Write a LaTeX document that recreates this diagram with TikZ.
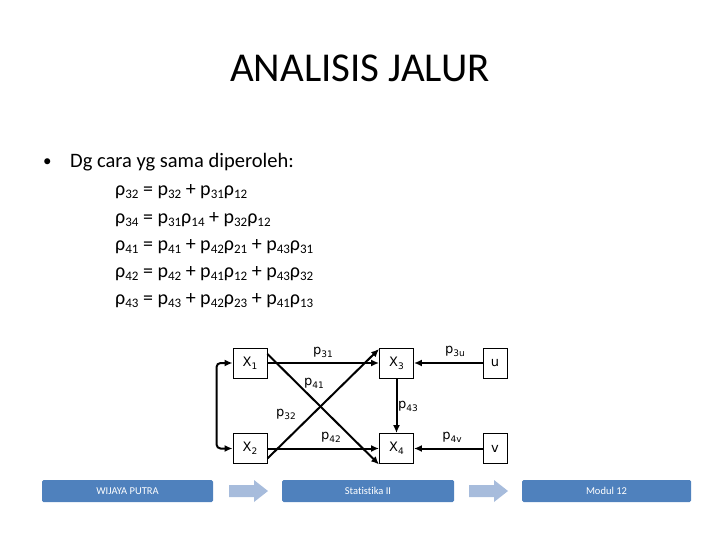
\documentclass[tikz,border=0pt]{standalone}
\usepackage{fontspec}
\setmainfont{Carlito}[Ligatures=NoCommon]
\newfontfamily\diagfont{DejaVu Sans}
\usetikzlibrary{arrows.meta}
\newcommand{\sbt}[1]{\raisebox{-3pt}{\fontsize{13}{13}\selectfont #1}}
\newcommand{\dsb}[1]{\raisebox{-3pt}{\fontsize{9}{9}\selectfont #1}}
\definecolor{barblue}{RGB}{79,129,189}
\definecolor{arrblue}{RGB}{167,188,220}
\tikzset{
  vbox/.style={draw=black, line width=0.9pt, minimum width=34pt, minimum height=30pt, inner sep=0pt, font=\diagfont\fontsize{13}{13}\selectfont},
  ebox/.style={vbox, minimum width=24pt},
  path/.style={line width=2pt, -{Latex[length=8pt,width=7pt]}},
  lbl/.style={inner sep=0pt, font=\diagfont\fontsize{13}{13}\selectfont},
  introline/.style={anchor=base west, inner sep=0pt, font=\fontsize{20.5}{20.5}\selectfont},
  eqline/.style={anchor=base west, inner sep=0pt, font=\fontsize{20}{20}\selectfont},
  bar/.style={fill=barblue, draw=none, rounded corners=1.5pt},
  bartext/.style={text=white, font=\fontsize{10.5}{10.5}\selectfont, inner sep=0pt},
  chev/.style={fill=arrblue, draw=none}
}
\begin{document}
\begin{tikzpicture}[x=1pt,y=-1pt]
\useasboundingbox (0,0) rectangle (720,540);
% title
\node[anchor=base, inner sep=0pt, font=\fontsize{41}{41}\selectfont] (title) at (360,82) {ANALISIS JALUR};
% bullet text
\node[anchor=base west, inner sep=0pt, font=\fontsize{17}{17}\selectfont] (bul) at (43,167) {•};
\node[introline] (intro) at (70,168) {Dg cara yg sama diperoleh:};
\node[eqline] (e1) at (115,196) {ρ\sbt{32} = p\sbt{32} + p\sbt{31}ρ\sbt{12}};
\node[eqline] (e2) at (115,223) {ρ\sbt{34} = p\sbt{31}ρ\sbt{14} + p\sbt{32}ρ\sbt{12}};
\node[eqline] (e3) at (115,250) {ρ\sbt{41} = p\sbt{41} + p\sbt{42}ρ\sbt{21} + p\sbt{43}ρ\sbt{31}};
\node[eqline] (e4) at (115,277) {ρ\sbt{42} = p\sbt{42} + p\sbt{41}ρ\sbt{12} + p\sbt{43}ρ\sbt{32}};
\node[eqline] (e5) at (115,304) {ρ\sbt{43} = p\sbt{43} + p\sbt{42}ρ\sbt{23} + p\sbt{41}ρ\sbt{13}};
% diagram nodes
\node[vbox] (x1) at (250,363) {X\dsb{1}};
\node[vbox] (x2) at (250,448.5) {X\dsb{2}};
\node[vbox] (x3) at (396.5,363) {X\dsb{3}};
\node[vbox] (x4) at (396.5,448.5) {X\dsb{4}};
\node[ebox] (u) at (495,363) {u};
\node[ebox] (v) at (495,448.5) {v};
% connectors
\draw[path] (x1.east) -- (x3.west);
\draw[path] (x2.east) -- (x4.west);
\draw[path] ([yshift=9pt]x1.east) -- ([yshift=-16pt]x4.west);
\draw[path] ([yshift=-10pt]x2.east) -- ([yshift=14pt]x3.west);
\draw[path] (x3.south) -- (x4.north);
\draw[path] (u.west) -- (x3.east);
\draw[path] (v.west) -- (x4.east);
\draw[line width=2pt, rounded corners=4pt, {Latex[length=8pt,width=7pt]}-{Latex[length=8pt,width=7pt]}]
  (x1.west) -- ([xshift=-16pt]x1.west) -- ([xshift=-16pt]x2.west) -- (x2.west);
% labels
\node[lbl] (l31) at (323,352) {p\dsb{31}};
\node[lbl] (l41) at (314,383) {p\dsb{41}};
\node[lbl] (l32) at (286,414) {p\dsb{32}};
\node[lbl] (l42) at (331,437) {p\dsb{42}};
\node[lbl] (l43) at (408,406) {p\dsb{43}};
\node[lbl] (l3u) at (455,351) {p\dsb{3u}};
\node[lbl] (l4v) at (452,437) {p\dsb{4v}};
% footer
\draw[bar] (42,480) rectangle (213,502);
\node[bartext] (f1) at (127.5,491) {WIJAYA PUTRA};
\fill[chev] (229,485) -- (254,485) -- (254,480) -- (268,491) -- (254,502) -- (254,497) -- (229,497) -- cycle;
\draw[bar] (282,480) rectangle (454,502);
\node[bartext] (f2) at (368,491) {Statistika II};
\fill[chev] (469,485) -- (494,485) -- (494,480) -- (508,491) -- (494,502) -- (494,497) -- (469,497) -- cycle;
\draw[bar] (522,480) rectangle (691,502);
\node[bartext] (f3) at (606.5,491) {Modul 12};
\end{tikzpicture}
\end{document}
